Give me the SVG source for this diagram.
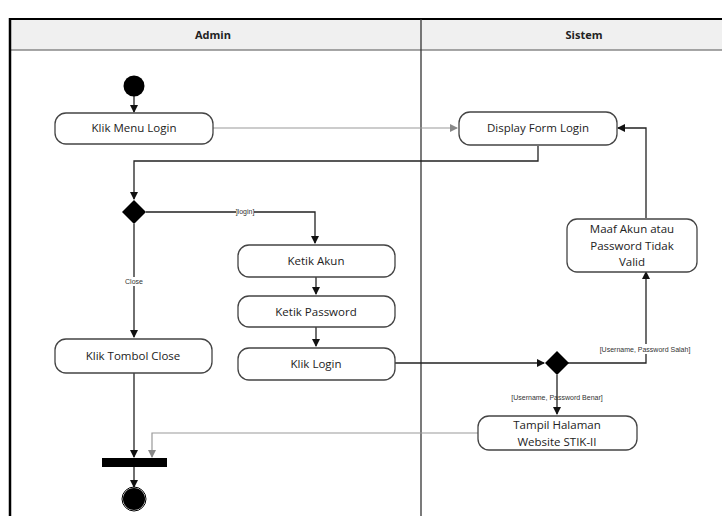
<svg xmlns="http://www.w3.org/2000/svg" width="722" height="516" viewBox="0 0 722 516">
<style>
.box{fill:#fff;stroke:#444;stroke-width:1.3}
.t{font-family:"Open Sans","Liberation Sans",sans-serif;font-size:11.5px;fill:#222;text-anchor:middle}
.h{font-family:"Open Sans","Liberation Sans",sans-serif;font-size:11px;font-weight:bold;fill:#222;text-anchor:middle}
.g{font-family:"Liberation Sans",sans-serif;font-size:7px;fill:#333;text-anchor:middle}
.ln{fill:none;stroke:#222;stroke-width:1.3}
.lg{fill:none;stroke:#999;stroke-width:1.2}
</style>
<defs>
<marker id="a" markerWidth="8" markerHeight="8" refX="7" refY="4" orient="auto" markerUnits="userSpaceOnUse"><path d="M0,0 L8,4 L0,8 z" fill="#111"/></marker>
<marker id="ag" markerWidth="8" markerHeight="8" refX="7" refY="4" orient="auto" markerUnits="userSpaceOnUse"><path d="M0,0 L8,4 L0,8 z" fill="#888"/></marker>
</defs>
<rect x="0" y="0" width="722" height="516" fill="#fff"/>
<g id="lanes">
<rect x="10" y="20" width="712" height="30" fill="#f0f0f0"/>
<line x1="10" y1="50" x2="722" y2="50" stroke="#888" stroke-width="1.5"/>
<line x1="9" y1="19" x2="722" y2="19" stroke="#000" stroke-width="2"/>
<line x1="10" y1="18" x2="10" y2="516" stroke="#000" stroke-width="2.5"/>
<line x1="421" y1="19" x2="421" y2="516" stroke="#333" stroke-width="1.3"/>
<text class="h" x="213" y="39">Admin</text>
<text class="h" x="584" y="39">Sistem</text>
</g>
<g id="connectors">
<line class="ln" x1="134" y1="96" x2="134" y2="112" marker-end="url(#a)"/>
<line class="lg" x1="213" y1="128" x2="457" y2="128" marker-end="url(#ag)"/>
<path class="ln" d="M538,146 V161 H134 V199" marker-end="url(#a)"/>
<path class="ln" d="M146,212 H315 V243" marker-end="url(#a)"/>
<line class="ln" x1="134" y1="224" x2="134" y2="337" marker-end="url(#a)"/>
<line class="ln" x1="316" y1="277" x2="316" y2="294" marker-end="url(#a)"/>
<line class="ln" x1="316" y1="327" x2="316" y2="346" marker-end="url(#a)"/>
<line class="ln" x1="395" y1="363" x2="544" y2="363" marker-end="url(#a)"/>
<path class="ln" d="M568,363 H646 V272" marker-end="url(#a)"/>
<path class="ln" d="M646,218 V128 H618" marker-end="url(#a)"/>
<line class="ln" x1="557" y1="375" x2="557" y2="414" marker-end="url(#a)"/>
<line class="ln" x1="134" y1="373" x2="134" y2="457" marker-end="url(#a)"/>
<path class="lg" d="M478,433 H152 V457" marker-end="url(#ag)"/>
<line class="ln" x1="134" y1="467" x2="134" y2="487" marker-end="url(#a)"/>
<rect x="236" y="207" width="18" height="9" fill="#fff"/>
<text class="g" x="245" y="214">]login]</text>
<rect x="122" y="277" width="24" height="9" fill="#fff"/>
<text class="g" x="134" y="284">Close</text>
<rect x="578" y="344" width="134" height="10" fill="#fff"/>
<text class="g" x="645" y="352">[Username, Password Salah]</text>
<text class="g" x="557" y="400">[Username, Password Benar]</text>
</g>
<g id="start"><circle cx="134" cy="86" r="10.5" fill="#000"/></g>
<g id="klikMenuLogin"><rect class="box" x="55" y="113" width="158" height="31" rx="11"/><text class="t" x="134" y="132">Klik Menu Login</text></g>
<g id="displayFormLogin"><rect class="box" x="459" y="112" width="158" height="33" rx="11"/><text class="t" x="538" y="132">Display Form Login</text></g>
<g id="decision1"><polygon points="134,200 146,212 134,224 122,212" fill="#000"/></g>
<g id="ketikAkun"><rect class="box" x="238" y="245" width="157" height="32" rx="11"/><text class="t" x="316" y="265">Ketik Akun</text></g>
<g id="ketikPassword"><rect class="box" x="238" y="296" width="157" height="31" rx="11"/><text class="t" x="316" y="316">Ketik Password</text></g>
<g id="klikLogin"><rect class="box" x="238" y="348" width="157" height="32" rx="11"/><text class="t" x="316" y="368">Klik Login</text></g>
<g id="klikTombolClose"><rect class="box" x="55" y="339" width="157" height="34" rx="11"/><text class="t" x="133" y="360">Klik Tombol Close</text></g>
<g id="maaf"><rect class="box" x="567" y="219" width="130" height="53" rx="10"/><text class="t" x="632" y="233">Maaf Akun atau</text><text class="t" x="632" y="250">Password Tidak</text><text class="t" x="632" y="266">Valid</text></g>
<g id="decision2"><polygon points="557,351 569,363 557,375 545,363" fill="#000"/></g>
<g id="tampil"><rect class="box" x="478" y="416" width="159" height="34" rx="11"/><text class="t" x="557" y="429">Tampil Halaman</text><text class="t" x="557" y="446">Website STIK-II</text></g>
<g id="join"><rect x="102" y="458" width="65" height="9" fill="#000"/></g>
<g id="end"><circle cx="134" cy="499" r="11" fill="#000"/><circle cx="134" cy="499" r="12" fill="none" stroke="#000" stroke-width="1"/></g>
</svg>
